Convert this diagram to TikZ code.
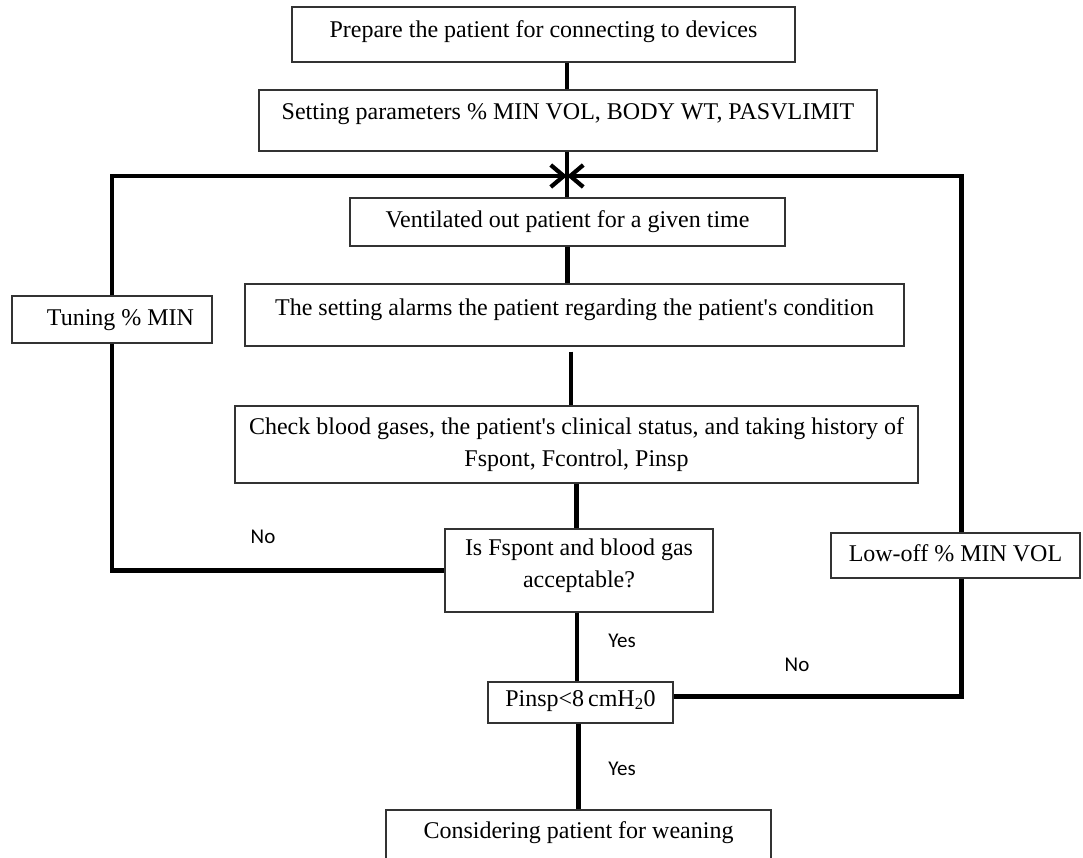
\documentclass[tikz,border=0pt]{standalone}
\usepackage{fontspec}
\setmainfont{Liberation Serif}
\newfontfamily\labelfont{Carlito}
\usetikzlibrary{arrows.meta}
\newcommand\liftA[2]{\raisebox{#1}[17pt][6pt]{#2}}
\newcommand\liftB[2]{\raisebox{#1}[38pt][26pt]{\begin{tabular}{@{}c@{}}#2\end{tabular}}}
\newcommand\apos{\textquotesingle}
\begin{document}
\begin{tikzpicture}[x=1pt,y=-1pt,
  box/.style={draw=black!80, line width=1.3pt, rectangle, inner sep=0pt,
    font=\fontsize{24}{32}\selectfont, text=black},
  conn/.style={line width=4.2pt, line join=miter},
  arr/.style={conn, -{Straight Barb[length=13pt,width=22pt]}},
  lbl/.style={font=\labelfont\fontsize{21}{24}\selectfont, inner sep=0pt, text=black},
]
\useasboundingbox (0,0) rectangle (1083,857);
\clip (0,0) rectangle (1083,857);

\node[box, minimum width=503pt, minimum height=55pt] (b1) at (543.5,34.5)
  {\liftA{3pt}{Prepare the patient for connecting to devices}};
\node[box, minimum width=618pt, minimum height=61pt] (b2) at (568,120.5)
  {\liftA{6.5pt}{Setting parameters \% MIN VOL, BODY WT, PASVLIMIT}};
\node[box, minimum width=435pt, minimum height=48pt] (b3) at (567.5,222)
  {\liftA{0pt}{Ventilated out patient for a given time}};
\node[box, minimum width=659pt, minimum height=62pt] (b4) at (574.5,315)
  {\liftA{5.5pt}{The setting alarms the patient regarding the patient\apos s condition}};
\node[box, minimum width=683pt, minimum height=77pt] (b5) at (576.5,444.5)
  {\liftB{0pt}{Check blood gases, the patient\apos s clinical status, and taking history of\\Fspont, Fcontrol, Pinsp}};
\node[box, minimum width=268pt, minimum height=83pt] (b6) at (579,570.5)
  {\liftB{5pt}{Is Fspont and blood gas\\acceptable?}};
\node[box, minimum width=185pt, minimum height=41pt] (b7) at (580.5,702.5)
  {\liftA{2pt}{Pinsp<8\,cmH\textsubscript{2}0}};
\node[box, minimum width=385pt, minimum height=60pt] (b8) at (578.5,840)
  {\liftA{7.5pt}{Considering patient for weaning}};
\node[box, minimum width=200pt, minimum height=47pt] (tun) at (112,319.5)
  {\liftA{0pt}{\hspace*{17pt}Tuning \% MIN}};
\node[box, minimum width=249pt, minimum height=45pt] (low) at (955.5,555.5)
  {\liftA{0pt}{Low-off \% MIN VOL}};

\coordinate (j) at (567,176);

\node[lbl] (nol) at (263,537) {No};
\node[lbl] (yes1) at (622,641) {Yes};
\node[lbl] (nor) at (797,665) {No};
\node[lbl] (yes2) at (622,769) {Yes};

% main column
\draw[conn] (b1.south -| j) -- (b2.north -| j);
\draw[conn] (b2.south -| j) -- (b3.north -| j);
\draw[conn] (b3.south) -- (b3.south |- b4.north);
\draw[conn, shorten <=5pt] ([xshift=-3.5pt]b4.south) -- ([xshift=-3.5pt]b4.south |- b5.north);
\draw[conn] (b5.south) -- (b5.south |- b6.north);
\draw[conn] ([xshift=-2pt]b6.south) -- ([xshift=-2pt]b6.south |- b7.north);
\draw[conn] ([xshift=-2pt]b7.south) -- ([xshift=-2pt]b7.south |- b8.north);

% feedback loops
\draw[arr] (tun.north) |- (j);
\draw[conn] (tun.south) |- (b6.west);
\draw[arr] ([xshift=6pt]low.north) |- (j);
\draw[conn] ([xshift=6pt]low.south) |- ([yshift=6pt]b7.east);
\end{tikzpicture}
\end{document}
